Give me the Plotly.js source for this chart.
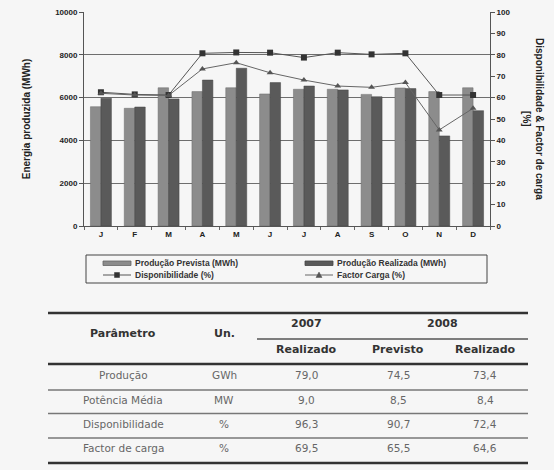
<!DOCTYPE html>
<html>
<head>
<meta charset="utf-8">
<script src="https://cdn.plot.ly/plotly-3.0.1.min.js"></script>
<style>html,body{margin:0;padding:0;background:#f6f6f6;}#chart{width:554px;height:470px;}</style>
</head>
<body>
<div id="chart"></div>
<script>
// ---- data ----
const monthPos = [1,2,3,4,5,6,7,8,9,10,11,12];
const monthLabels = ['J','F','M','A','M','J','J','A','S','O','N','D'];
const producaoPrevista = [5575, 5500, 6460, 6280, 6460, 6170, 6390, 6390, 6150, 6450, 6280, 6460];
const producaoRealizada = [5970, 5560, 5940, 6820, 7370, 6700, 6540, 6360, 6040, 6420, 4210, 5390];
const disponibilidade = [62.5, 61.5, 61.2, 80.7, 81.1, 81.0, 78.7, 81.0, 80.2, 80.7, 61.2, 61.2];
const factorCarga = [62.0, 61.2, 61.0, 73.4, 76.3, 71.6, 68.2, 65.4, 64.8, 67.0, 44.9, 55.0];
const leftTicks = [0, 2000, 4000, 6000, 8000, 10000];
const leftTickText = ['0', '2000', '4000', '6000', '8000', '10000'];

const seriesNames = ['Produção Prevista (MWh)', 'Produção Realizada (MWh)', 'Disponibilidade (%)', 'Factor Carga (%)'];

const tableParams = ['Produção', 'Potência Média', 'Disponibilidade', 'Factor de carga'];
const tableUnits = ['GWh', 'MW', '%', '%'];
const real2007 = ['79,0', '9,0', '96,3', '69,5'];
const prev2008 = ['74,5', '8,5', '90,7', '65,5'];
const real2008 = ['73,4', '8,4', '72,4', '64,6'];

// ---- geometry helpers (pixel -> paper) ----
const L = 84, R = 490, T = 12, B = 226;
const px = v => (v - L) / (R - L);
const py = v => (B - v) / (B - T);

const F = 'Liberation Sans, Arial, sans-serif';
const TF = 'DejaVu Sans, Verdana, sans-serif';

const colPrev = '#8c8c8c', colReal = '#5a5a5a';

const traces = [
  {type:'bar', name:seriesNames[0], x:monthPos, y:producaoPrevista,
   marker:{color:colPrev, line:{color:'#6a6a6a', width:0.5}}},
  {type:'bar', name:seriesNames[1], x:monthPos, y:producaoRealizada,
   marker:{color:colReal, line:{color:'#444', width:0.5}}},
  {type:'scatter', mode:'lines+markers', name:seriesNames[2], x:monthPos, y:disponibilidade, yaxis:'y2',
   line:{color:'#555', width:1}, marker:{symbol:'square', size:6, color:'#333'}},
  {type:'scatter', mode:'lines+markers', name:seriesNames[3], x:monthPos, y:factorCarga, yaxis:'y2',
   line:{color:'#666', width:1}, marker:{symbol:'triangle-up', size:6, color:'#555'}}
];

const shapes = [];
const annotations = [];

function rect(x0, y0, x1, y1, fill, lc, lw){
  shapes.push({type:'rect', xref:'paper', yref:'paper', x0:px(x0), x1:px(x1), y0:py(y0), y1:py(y1),
    fillcolor:fill, line:{color:lc, width:lw}});
}
function hline(x0, x1, y, w, c){
  shapes.push({type:'line', xref:'paper', yref:'paper', x0:px(x0), x1:px(x1), y0:py(y), y1:py(y), line:{color:c, width:w}});
}
function label(x, y, s, anchor, family, size, color, bold){
  annotations.push({xref:'paper', yref:'paper', x:px(x), y:py(y), text:s, showarrow:false,
    xanchor:anchor, yanchor:'middle', font:{family:family, size:size, color:color, weight: bold ? 'bold' : 'normal'}});
}

// right axis title
annotations.push({xref:'paper', yref:'paper', x:px(533), y:py(119), text:'Disponibilidade & Factor de carga<br>[%]',
  textangle:90, showarrow:false, font:{family:F, size:10, color:'#222', weight:'bold'}, xanchor:'center', yanchor:'middle'});

// ---- legend (drawn as a key box) ----
rect(86, 255, 487, 283, 'rgba(0,0,0,0)', '#444', 1);
rect(103, 261, 131, 265.5, colPrev, '#666', 0.8);
label(133, 263, seriesNames[0], 'left', F, 8.5, '#333', true);
rect(305, 261, 333, 265.5, colReal, '#444', 0.8);
label(335, 263, seriesNames[1], 'left', F, 8.5, '#333', true);
hline(103, 131, 275, 1, '#555');
rect(114.5, 272.5, 119.5, 277.5, '#333', '#333', 0.5);
label(133, 275, seriesNames[2], 'left', F, 8.5, '#333', true);
hline(305, 333, 275, 1, '#666');
shapes.push({type:'path', xref:'paper', yref:'paper',
  path:'M ' + px(319) + ' ' + py(272) + ' L ' + px(322) + ' ' + py(277.5) + ' L ' + px(316) + ' ' + py(277.5) + ' Z',
  fillcolor:'#555', line:{color:'#555', width:0.5}});
label(335, 275, seriesNames[3], 'left', F, 8.5, '#333', true);

// ---- table ----
const tL = 48, tR = 528;
hline(tL, tR, 313, 2.5, '#333');
hline(257, tR, 339, 1.5, '#555');
hline(tL, tR, 364, 2.5, '#333');
hline(tL, tR, 463, 2.5, '#333');

const colX = [123, 224, 306, 398, 485];
label(colX[0], 333, 'Parâmetro', 'center', TF, 11, '#333', true);
label(colX[1], 333, 'Un.', 'center', TF, 11, '#333', true);
label(306, 323, '2007', 'center', TF, 11, '#333', true);
label(442, 323, '2008', 'center', TF, 11, '#333', true);
label(colX[2], 349, 'Realizado', 'center', TF, 11, '#333', true);
label(colX[3], 349, 'Previsto', 'center', TF, 11, '#333', true);
label(colX[4], 349, 'Realizado', 'center', TF, 11, '#333', true);

const rowY = [375, 399.5, 423.5, 448];
const ruleY = [390, 413.5, 438];
for (let i = 0; i < tableParams.length; i++) {
  label(colX[0], rowY[i], tableParams[i], 'center', TF, 10.5, '#666', false);
  label(colX[1], rowY[i], tableUnits[i], 'center', TF, 10.5, '#666', false);
  label(colX[2], rowY[i], real2007[i], 'center', TF, 10.5, '#666', false);
  label(colX[3], rowY[i], prev2008[i], 'center', TF, 10.5, '#666', false);
  label(colX[4], rowY[i], real2008[i], 'center', TF, 10.5, '#666', false);
  if (i < ruleY.length) hline(tL, tR, ruleY[i], 1.5, '#777');
}

const layout = {
  width:554, height:470,
  margin:{l:L, r:554-R, t:T, b:470-B, pad:0},
  paper_bgcolor:'#f6f6f6', plot_bgcolor:'#f6f6f6',
  barmode:'group', bargap:0.38, bargroupgap:0,
  showlegend:false,
  xaxis:{range:[0.5, 12.5], tickmode:'array', tickvals:monthPos, ticktext:monthLabels, ticks:'',
    showline:true, linecolor:'#555', linewidth:1, showgrid:false, zeroline:false, fixedrange:true,
    tickfont:{family:F, size:8, color:'#222', weight:'bold'},
    minor:{tick0:0.5, dtick:1, ticks:'outside', ticklen:3, tickcolor:'#666', showgrid:false}},
  yaxis:{range:[0, 10000], tickmode:'array', tickvals:leftTicks, ticktext:leftTickText, ticks:'outside', ticklen:4, tickcolor:'#555',
    showline:true, linecolor:'#555', linewidth:1, showgrid:true, gridcolor:'#6e6e6e', gridwidth:1, zeroline:false,
    tickfont:{family:F, size:8, color:'#222', weight:'bold'},
    title:{text:'Energia produzida (MWh)', font:{family:F, size:10, color:'#222', weight:'bold'}, standoff:22}},
  yaxis2:{range:[0, 100], overlaying:'y', side:'right', dtick:10, tick0:0, ticks:'outside', ticklen:4, tickcolor:'#555',
    showline:true, linecolor:'#555', linewidth:1, showgrid:false, zeroline:false,
    tickfont:{family:F, size:8, color:'#222', weight:'bold'}},
  shapes:shapes,
  annotations:annotations
};

Plotly.newPlot('chart', traces, layout, {displayModeBar:false, staticPlot:true});
</script>
</body>
</html>
